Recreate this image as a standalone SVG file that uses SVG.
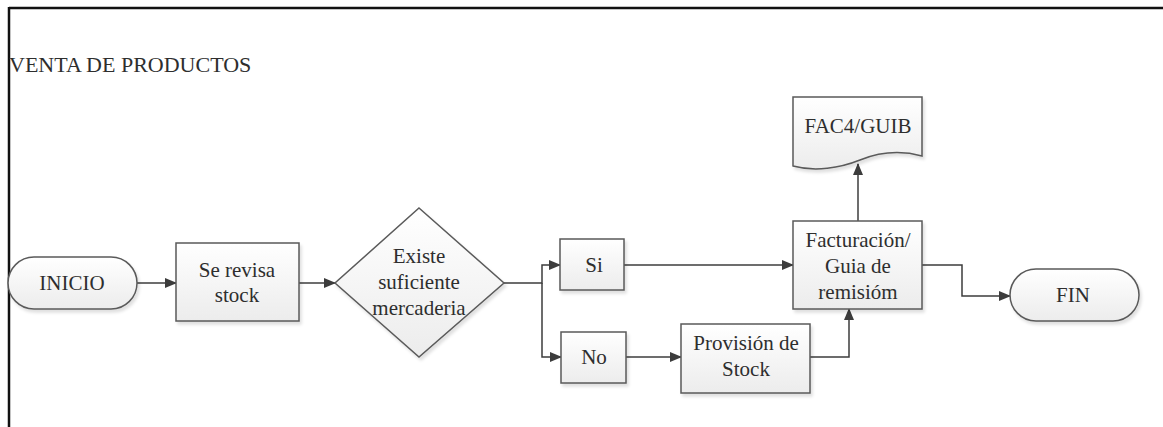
<svg xmlns="http://www.w3.org/2000/svg" width="1163" height="427" viewBox="0 0 1163 427">
<style>
  text { font-family: 'Liberation Serif', Tinos, 'Times New Roman', 'DejaVu Serif', serif; font-size: 21px; fill: #2e2e2e; text-anchor: middle; }
  .shape { fill: url(#g); stroke: #5a5a5a; stroke-width: 1.5; filter: url(#sh); }
  .conn { fill: none; stroke: #3c3c3c; stroke-width: 1.5; }
</style>
<defs>
  <linearGradient id="g" x1="0" y1="0" x2="0" y2="1">
    <stop offset="0" stop-color="#ffffff"/>
    <stop offset="1" stop-color="#ececec"/>
  </linearGradient>
  <filter id="sh" x="-10%" y="-10%" width="125%" height="130%">
    <feDropShadow dx="2" dy="3" stdDeviation="1.5" flood-color="#000" flood-opacity="0.12"/>
  </filter>
  <marker id="arr" markerWidth="12" markerHeight="10" refX="11" refY="5" orient="auto" markerUnits="userSpaceOnUse">
    <path d="M0,0 L12,5 L0,10 Z" fill="#3c3c3c"/>
  </marker>
</defs>
<rect width="1163" height="427" fill="#ffffff"/>
<g id="frame">
  <line x1="9" y1="8" x2="1163" y2="8" stroke="#111" stroke-width="2.5"/>
  <line x1="9" y1="7" x2="9" y2="427" stroke="#111" stroke-width="2.5"/>
</g>
<text id="title" x="9" y="72" style="text-anchor:start; font-size:22px">VENTA DE PRODUCTOS</text>

<g id="connectors">
  <path class="conn" d="M137,283 H176" marker-end="url(#arr)"/>
  <path class="conn" d="M299,283 H335" marker-end="url(#arr)"/>
  <path class="conn" d="M504,283 H542 V265 H560" marker-end="url(#arr)"/>
  <path class="conn" d="M542,283 V357 H561" marker-end="url(#arr)"/>
  <path class="conn" d="M624,265 H793" marker-end="url(#arr)"/>
  <path class="conn" d="M626,357 H681" marker-end="url(#arr)"/>
  <path class="conn" d="M810,357 H849 V309" marker-end="url(#arr)"/>
  <path class="conn" d="M858,221 V164" marker-end="url(#arr)"/>
  <path class="conn" d="M922,265 H962 V296 H1010" marker-end="url(#arr)"/>
</g>

<g id="inicio">
  <rect class="shape" x="8" y="257" width="129" height="52" rx="26" ry="26"/>
  <text x="72" y="290">INICIO</text>
</g>
<g id="revisa">
  <rect class="shape" x="176" y="243" width="123" height="78"/>
  <text x="237" y="277">Se revisa</text>
  <text x="237" y="302">stock</text>
</g>
<g id="decision">
  <polygon class="shape" points="419,208 504,283 419,357 335,283"/>
  <text x="419" y="263">Existe</text>
  <text x="419" y="289">suficiente</text>
  <text x="419" y="315">mercaderia</text>
</g>
<g id="si">
  <rect class="shape" x="560" y="239" width="64" height="51"/>
  <text x="594" y="272">Si</text>
</g>
<g id="no">
  <rect class="shape" x="561" y="332" width="65" height="51"/>
  <text x="594" y="364">No</text>
</g>
<g id="provision">
  <rect class="shape" x="681" y="324" width="129" height="69"/>
  <text x="746" y="350">Provisión de</text>
  <text x="746" y="376">Stock</text>
</g>
<g id="facturacion">
  <rect class="shape" x="793" y="221" width="129" height="88"/>
  <text x="858" y="247">Facturación/</text>
  <text x="858" y="273">Guia de</text>
  <text x="858" y="299">remisióm</text>
</g>
<g id="documento">
  <path class="shape" d="M793,97 H922 V156 C900,150 880,152 860,160 C840,168 815,172 793,166 Z"/>
  <text x="858" y="133">FAC4/GUIB</text>
</g>
<g id="fin">
  <rect class="shape" x="1010" y="269" width="129" height="52" rx="26" ry="26"/>
  <text x="1073" y="302">FIN</text>
</g>
</svg>
